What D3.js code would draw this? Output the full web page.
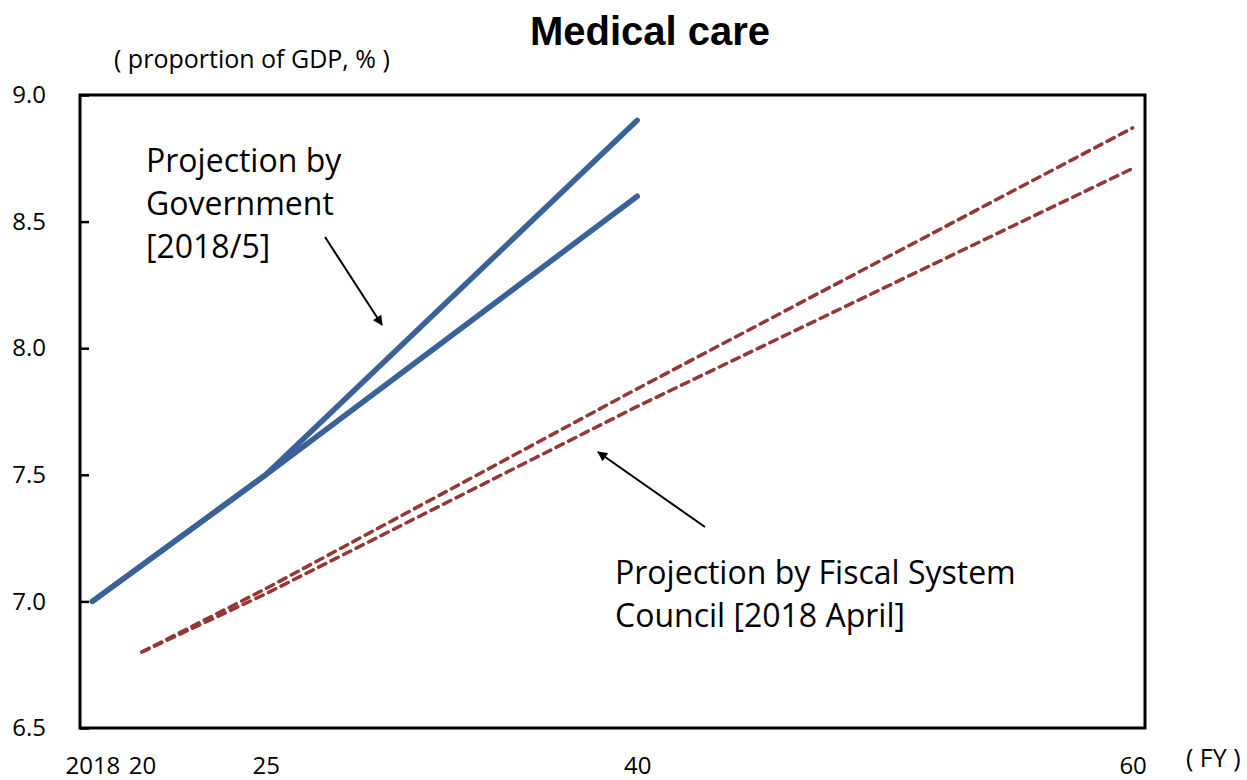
<!DOCTYPE html>
<html>
<head>
<meta charset="utf-8">
<title>Medical care</title>
<script src="https://d3js.org/d3.v7.min.js"></script>
<style>
  body { margin: 0; background: #fff; }
  .lbl { font-family: 'Open Sans', sans-serif; fill: #000; }
  .tick text { font-family: 'Open Sans', sans-serif; font-size: 24px; fill: #000; }
</style>
</head>
<body>
<script>
// data
var govYears = [2018, 2025, 2040];
var govHigh = [7.0, 7.5, 8.9];
var govLow = [7.0, 7.5, 8.6];
var fiscalYears = [2020, 2025, 2040, 2060];
var fiscalHigh = [6.8, 7.05, 7.84, 8.87];
var fiscalLow = [6.8, 7.03, 7.77, 8.71];
var xTicks = [2018, 2020, 2025, 2040, 2060];
var xTickLabels = ["2018", "20", "25", "40", "60"];
var yTicks = [6.5, 7.0, 7.5, 8.0, 8.5, 9.0];

var W = 1247, H = 780;
var mLeft = 80, mRight = 1145, mTop = 95, mBottom = 728;

var svg = d3.select("body").append("svg").attr("width", W).attr("height", H);

var x = d3.scaleLinear().domain([2017.5, 2060.5]).range([mLeft, mRight]);
var y = d3.scaleLinear().domain([6.5, 9.0]).range([mBottom, mTop]);

// y axis, ticks inside
var yAx = svg.append("g").attr("transform", "translate(" + mLeft + ",0)")
  .call(d3.axisLeft(y).tickValues(yTicks).tickSize(-9).tickPadding(34).tickFormat(d3.format(".1f")));
yAx.select(".domain").remove();
yAx.selectAll(".tick line").attr("stroke", "#000").attr("stroke-width", 2.5);

// x axis labels only
var xAx = svg.append("g").attr("transform", "translate(0," + mBottom + ")")
  .call(d3.axisBottom(x).tickValues(xTicks).tickSize(0).tickPadding(29)
    .tickFormat(function(d, i) { return xTickLabels[i]; }));
xAx.select(".domain").remove();

// frame
svg.append("rect").attr("x", mLeft).attr("y", mTop)
  .attr("width", mRight - mLeft).attr("height", mBottom - mTop)
  .attr("fill", "none").attr("stroke", "#000").attr("stroke-width", 3);

var line = d3.line().x(function(d) { return x(d[0]); }).y(function(d) { return y(d[1]); });

function series(years, vals) { return years.map(function(yr, i) { return [yr, vals[i]]; }); }

[fiscalHigh, fiscalLow].forEach(function(v) {
  svg.append("path").datum(series(fiscalYears, v)).attr("d", line)
    .attr("fill", "none").attr("stroke", "#953735").attr("stroke-width", 3.5)
    .attr("stroke-dasharray", "8,6").attr("stroke-linecap", "round");
});
[govHigh, govLow].forEach(function(v) {
  svg.append("path").datum(series(govYears, v)).attr("d", line)
    .attr("fill", "none").attr("stroke", "#3a6298").attr("stroke-width", 5.5)
    .attr("stroke-linecap", "round").attr("stroke-linejoin", "round");
});

// title & labels
svg.append("text").attr("x", 650).attr("y", 45).attr("text-anchor", "middle")
  .style("font-family", "'Liberation Sans', Arial, sans-serif").style("font-weight", "bold")
  .style("font-size", "40px").text("Medical care");
svg.append("text").attr("class", "lbl").attr("x", 114).attr("y", 68)
  .style("font-size", "25px").text("( proportion of GDP, % )");
svg.append("text").attr("class", "lbl").attr("x", 1186).attr("y", 767)
  .style("font-size", "25px").text("( FY )");

// annotations
var ann1 = ["Projection by", "Government", "[2018/5]"];
ann1.forEach(function(t, i) {
  svg.append("text").attr("class", "lbl").attr("x", 146).attr("y", 172 + i * 43)
    .style("font-size", "32px").text(t);
});
var ann2 = ["Projection by Fiscal System", "Council [2018 April]"];
ann2.forEach(function(t, i) {
  svg.append("text").attr("class", "lbl").attr("x", 615).attr("y", 584 + i * 43)
    .style("font-size", "32px").text(t);
});

// arrows
svg.append("defs").append("marker").attr("id", "ah")
  .attr("viewBox", "0 0 10 10").attr("refX", 9).attr("refY", 5)
  .attr("markerWidth", 12).attr("markerHeight", 10).attr("orient", "auto")
  .attr("markerUnits", "userSpaceOnUse")
  .append("path").attr("d", "M0,0L10,5L0,10z").attr("fill", "#000");
var arrows = [[325, 237, 382, 325], [705, 527, 598, 452]];
arrows.forEach(function(a) {
  svg.append("line").attr("x1", a[0]).attr("y1", a[1]).attr("x2", a[2]).attr("y2", a[3])
    .attr("stroke", "#000").attr("stroke-width", 2).attr("marker-end", "url(#ah)");
});
</script>
</body>
</html>
